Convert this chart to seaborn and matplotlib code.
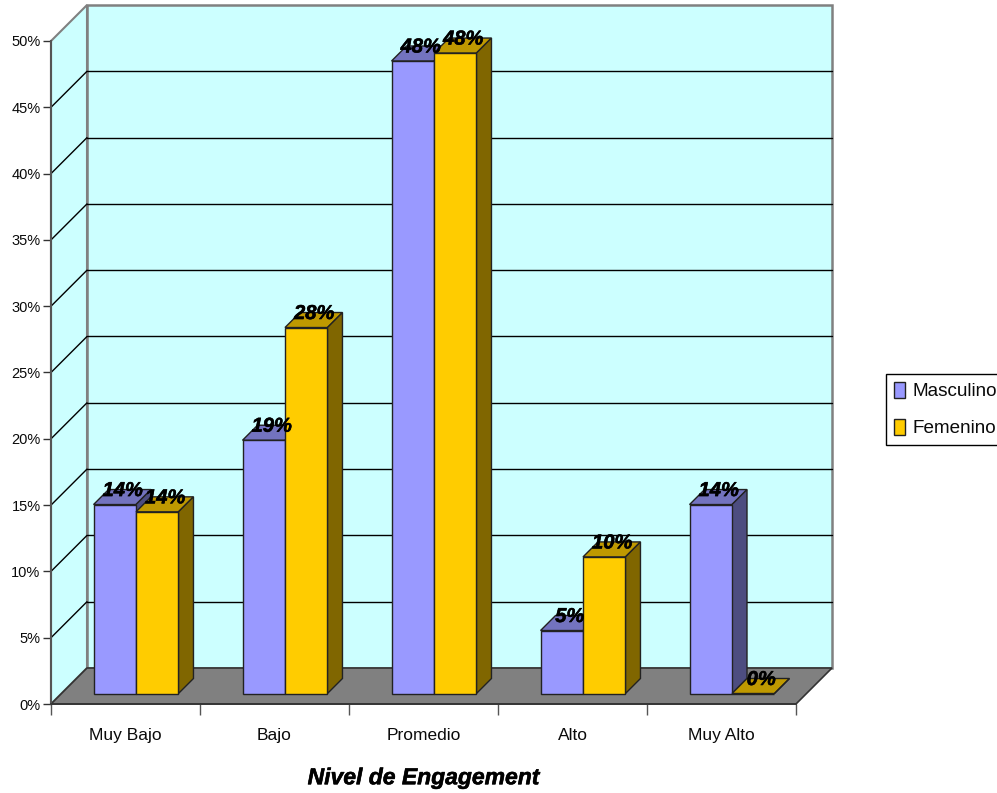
import pandas as pd
import seaborn as sns
import matplotlib.pyplot as plt
import matplotlib.patheffects as pe
from matplotlib.colors import to_rgb
from matplotlib.lines import Line2D
from matplotlib.patches import Polygon
from matplotlib.ticker import PercentFormatter
from matplotlib.transforms import Affine2D, IdentityTransform

niveles = ["Muy Bajo", "Bajo", "Promedio", "Alto", "Muy Alto"]
masculino = [14.25, 19.1, 47.7, 4.75, 14.25]
femenino = [13.7, 27.6, 48.3, 10.3, 0]
colores = ["#9999FF", "#FFCC00"]

df = pd.DataFrame({"Nivel": niveles, "Masculino": masculino, "Femenino": femenino})
df = df.melt(id_vars="Nivel", var_name="Sexo", value_name="Porcentaje")

sns.set_style("white")
plt.rcParams["font.family"] = ["Liberation Sans"]
plt.rcParams["text.color"] = "#0a0a0a"

W, H = 997, 793
fig = plt.figure(figsize=(W / 100, H / 100), dpi=100)
ax = fig.add_axes([51 / W, (H - 704) / H, 745 / W, 663 / H])
ax.patch.set_visible(False)

sns.barplot(data=df, x="Nivel", y="Porcentaje", hue="Sexo", order=niveles,
            palette=colores, width=0.57, gap=0, saturation=1, ax=ax,
            edgecolor="#222222", linewidth=1)
ax.set_xlim(-0.5, 4.5)
ax.set_ylim(0, 50)

# fake 3d: the depth is a shift in pixels, up and to the right
FONDO = 36
INI_BARRA = 10.5
FIN_BARRA = 25.5
GRUESA = [pe.withStroke(linewidth=0.4, foreground="black")]


def px(x, y, d):
    X, Y = ax.transData.transform((x, y))
    return X + d, Y + d


def cara(puntos, color, z, ec="#222222", lw=1):
    ax.add_patch(Polygon([px(*p) for p in puntos], closed=True, fc=color, ec=ec, lw=lw,
                         transform=IdentityTransform(), clip_on=False, zorder=z))


def linea(p1, p2, color, lw, z):
    a, b = px(*p1), px(*p2)
    ax.add_line(Line2D([a[0], b[0]], [a[1], b[1]], color=color, lw=lw,
                       transform=IdentityTransform(), clip_on=False, zorder=z))


def oscuro(color, f):
    return tuple(c * f for c in to_rgb(color))


# walls and floor
cara([(-0.5, 0, FONDO), (4.5, 0, FONDO), (4.5, 50, FONDO), (-0.5, 50, FONDO)], "#CCFFFF", 0.5, "#808080", 1.8)
cara([(-0.5, 0, 0), (-0.5, 0, FONDO), (-0.5, 50, FONDO), (-0.5, 50, 0)], "#CCFFFF", 0.5, "#808080", 1.5)
cara([(-0.5, 0, 0), (4.5, 0, 0), (4.5, 0, FONDO), (-0.5, 0, FONDO)], "#808080", 0.7, "#333333", 1.2)

for v in range(5, 50, 5):
    linea((-0.5, v, 0), (-0.5, v, FONDO), "black", 1, 0.8)
    linea((-0.5, v, FONDO), (4.5, v, FONDO), "black", 1, 0.8)

# the bars from seaborn get moved back and get a top and a side
desplazar = ax.transData + Affine2D().translate(INI_BARRA, INI_BARRA)
for s, cont in enumerate(ax.containers):
    for i, bar in enumerate(cont.patches):
        x0, x1 = bar.get_x(), bar.get_x() + bar.get_width()
        h = bar.get_height()
        z = 3 + i * 2 + s * 0.5
        c = colores[s]
        bar.set_transform(desplazar)
        bar.set_zorder(z + 0.1)
        bar.set_clip_on(False)
        cara([(x0, h, INI_BARRA), (x1, h, INI_BARRA), (x1, h, FIN_BARRA), (x0, h, FIN_BARRA)], oscuro(c, 0.75), z)
        cara([(x1, 0, INI_BARRA), (x1, 0, FIN_BARRA), (x1, h, FIN_BARRA), (x1, h, INI_BARRA)], oscuro(c, 0.5), z)
        X, Y = px((x0 + x1) / 2, h, INI_BARRA + 7)
        ax.text(X + 1, Y + 7, f"{h:.0f}%", transform=IdentityTransform(), ha="center", va="center",
                fontsize=14.5, fontweight="bold", fontstyle="italic", color="black",
                zorder=30, path_effects=GRUESA)

# axes
for lado in ["top", "right"]:
    ax.spines[lado].set_visible(False)
ax.spines["left"].set_color("#555555")
ax.spines["left"].set_linewidth(1.5)
ax.spines["bottom"].set_color("#333333")
ax.spines["bottom"].set_linewidth(1.2)
ax.spines["left"].set_zorder(1)
ax.spines["bottom"].set_zorder(1)

ax.set_yticks(range(0, 55, 5))
ax.yaxis.set_major_formatter(PercentFormatter(decimals=0))
ax.tick_params(axis="y", length=6, width=1, color="#333333", labelsize=10.5, pad=1.5, left=True,
               labelcolor="#0a0a0a")
ax.set_xticks([-0.5, 0.5, 1.5, 2.5, 3.5, 4.5], minor=True)
ax.tick_params(axis="x", which="minor", length=8, width=1, color="#555555", bottom=True)
ax.tick_params(axis="x", which="major", length=0, labelsize=12.5, pad=17, labelcolor="#0a0a0a")
ax.set_ylabel("")
ax.set_xlabel("Nivel de Engagement", fontsize=16.5, fontweight="bold", fontstyle="italic",
              color="black", labelpad=17, path_effects=GRUESA)

handles, labels = ax.get_legend_handles_labels()
ax.legend(handles, labels, loc="lower left", bbox_to_anchor=(886 / W, (H - 445) / H),
          bbox_transform=fig.transFigure, borderaxespad=0, fancybox=False, framealpha=1,
          edgecolor="black", fontsize=13.6, handlelength=0.63, handleheight=0.9,
          handletextpad=0.35, labelspacing=1.0, borderpad=0.4, title=None)

fig.savefig("out.png", dpi=100)
